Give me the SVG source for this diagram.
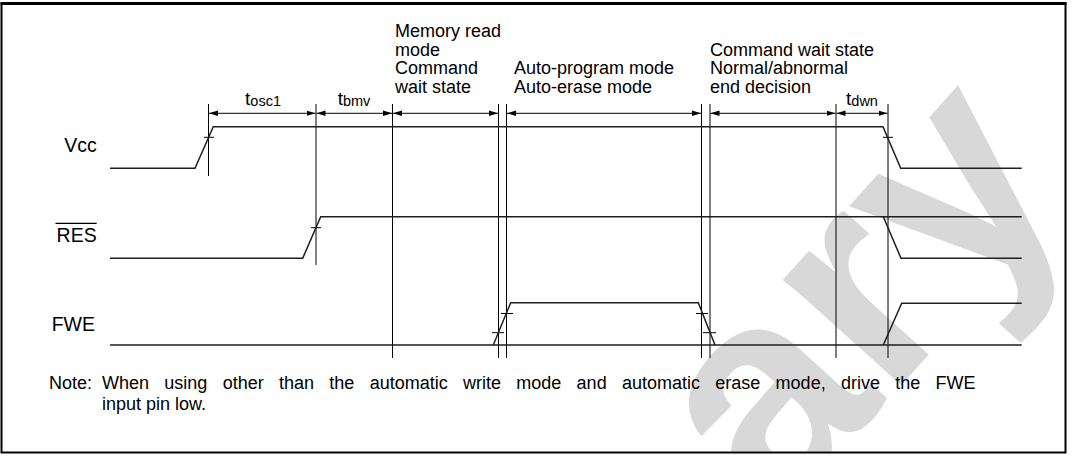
<svg xmlns="http://www.w3.org/2000/svg" width="1072" height="456" viewBox="0 0 1072 456">
<style>
text{font-family:"Liberation Sans",Arial,Helvetica,sans-serif;fill:#000}
.lbl{font-size:18px}
.tl{font-size:19px}
.sig{font-size:19.5px}
.note{font-size:18px}
.sub{font-size:14.5px}
.wm{font-family:"Liberation Sans",Arial,sans-serif;font-weight:bold;font-size:300px;fill:#d8d8d8}
.s{fill:none;stroke:#1e1e1e;stroke-width:1.5}
.v{fill:none;stroke:#000;stroke-width:1}
.dim{fill:none;stroke:#000;stroke-width:1;marker-start:url(#ah);marker-end:url(#ah)}
</style>
<defs>
<marker id="ah" markerUnits="userSpaceOnUse" markerWidth="10" markerHeight="8" refX="9" refY="4" orient="auto-start-reverse">
<path d="M0,1.3 L9,4 L0,6.7 Z" fill="#000"/>
</marker>
<clipPath id="inner"><rect x="2.5" y="4.5" width="1062" height="447"/></clipPath>
</defs>
<rect width="1072" height="456" fill="#fff"/>
<g clip-path="url(#inner)">
<text class="wm" transform="translate(1077,190) rotate(-48)" text-anchor="end">ary</text>
</g>
<g id="frame">
<rect x="1.5" y="3.5" width="1064" height="449" fill="none" stroke="#000" stroke-width="2"/>
<line x1="0.5" y1="3.5" x2="1066.5" y2="3.5" stroke="#000" stroke-width="3"/>
</g>
<g id="connectors">
<g id="guides">
<line class="v" x1="208.5" y1="104" x2="208.5" y2="176"/>
<line class="v" x1="316" y1="104" x2="316" y2="265"/>
<line class="v" x1="392.5" y1="104" x2="392.5" y2="358"/>
<line class="v" x1="498.5" y1="104" x2="498.5" y2="358"/>
<line class="v" x1="506.5" y1="104" x2="506.5" y2="358"/>
<line class="v" x1="701.5" y1="104" x2="701.5" y2="358"/>
<line class="v" x1="710" y1="104" x2="710" y2="358"/>
<line class="v" x1="836" y1="104" x2="836" y2="358"/>
<line class="v" x1="888" y1="104" x2="888" y2="358"/>
</g>
<g id="ticks">
<line class="v" x1="204" y1="137.3" x2="214" y2="137.3"/>
<line class="v" x1="311" y1="227.7" x2="321" y2="227.7"/>
<line class="v" x1="492" y1="332.7" x2="504" y2="332.7"/>
<line class="v" x1="501" y1="313.5" x2="513" y2="313.5"/>
<line class="v" x1="696" y1="313.5" x2="708" y2="313.5"/>
<line class="v" x1="703" y1="332.7" x2="716" y2="332.7"/>
<line class="v" x1="883" y1="137.3" x2="893" y2="137.3"/>
</g>
<g id="dims">
<line class="dim" x1="209" y1="113.3" x2="315.5" y2="113.3"/>
<line class="dim" x1="316.5" y1="113.3" x2="392" y2="113.3"/>
<line class="dim" x1="393" y1="113.3" x2="498" y2="113.3"/>
<line class="dim" x1="507" y1="113.3" x2="701" y2="113.3"/>
<line class="dim" x1="710.5" y1="113.3" x2="835.5" y2="113.3"/>
<line class="dim" x1="836.5" y1="113.3" x2="887.5" y2="113.3"/>
</g>
</g>
<g id="vcc">
<text class="sig" x="96.7" y="151.7" text-anchor="end">Vcc</text>
<path class="s" d="M110,168.3 H195 L213.3,126.7 H883 L900.7,168.3 H1021.7"/>
</g>
<g id="res">
<text class="sig" x="96.7" y="241.7" text-anchor="end">RES</text>
<line x1="55.5" y1="223.3" x2="96.7" y2="223.3" stroke="#000" stroke-width="1.3"/>
<path class="s" d="M110,258.3 H302.7 L320.7,216.7 H1021.7 M883.3,216.7 L901,258.3 H1021.7"/>
</g>
<g id="fwe">
<text class="sig" x="95" y="331" text-anchor="end">FWE</text>
<path class="s" d="M110,345 H1021.7 M493.3,345 L510.7,302.7 H698.3 L715,345 M883.3,345 L901.7,303.3 H1021.7"/>
</g>
<g id="timing-labels">
<text class="tl" x="263" y="104.5" text-anchor="middle">t<tspan class="sub" dy="1">osc1</tspan></text>
<text class="tl" x="354" y="104.5" text-anchor="middle">t<tspan class="sub" dy="1">bmv</tspan></text>
<text class="tl" x="862" y="104.5" text-anchor="middle">t<tspan class="sub" dy="1">dwn</tspan></text>
</g>
<g id="mode-labels">
<text class="lbl" x="395" y="37.3">Memory read</text>
<text class="lbl" x="395" y="55.7">mode</text>
<text class="lbl" x="395" y="74.2">Command</text>
<text class="lbl" x="395" y="92.7">wait state</text>
<text class="lbl" x="514" y="74.2">Auto-program mode</text>
<text class="lbl" x="514" y="92.7">Auto-erase mode</text>
<text class="lbl" x="710" y="55.7">Command wait state</text>
<text class="lbl" x="710" y="74.2">Normal/abnormal</text>
<text class="lbl" x="710" y="92.7">end decision</text>
</g>
<g id="note">
<text class="note" x="49" y="389">Note:</text>
<text class="note" x="102" y="389" style="word-spacing:10.3px">When using other than the automatic write mode and automatic erase mode, drive the FWE</text>
<text class="note" x="102" y="410">input pin low.</text>
</g>
</svg>
